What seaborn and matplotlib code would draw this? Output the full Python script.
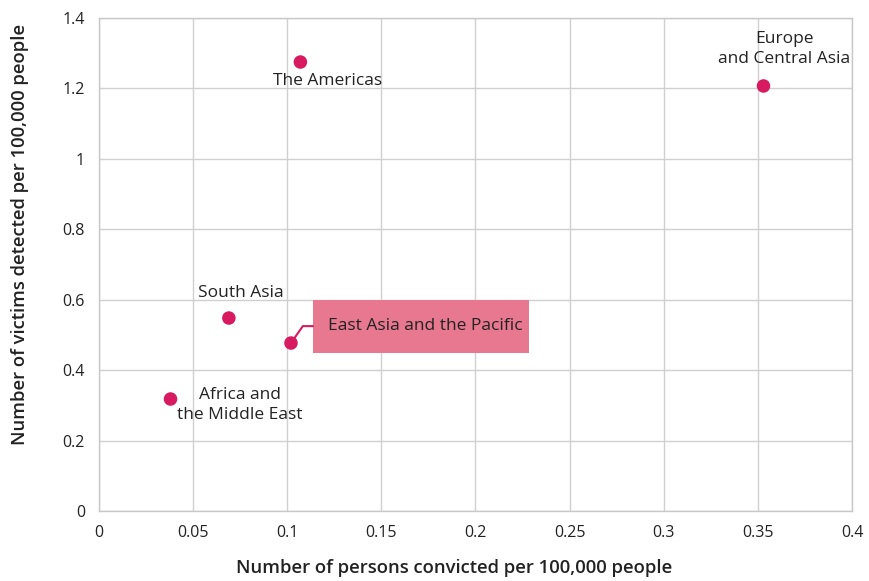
import matplotlib
matplotlib.use("Agg")
import matplotlib.pyplot as plt
from matplotlib.patches import Rectangle
import seaborn as sns
import pandas as pd

# data
regions = ["The Americas", "Europe\nand Central Asia", "South Asia",
           "East Asia and the Pacific", "Africa and\nthe Middle East"]
convicted = [0.107, 0.353, 0.069, 0.102, 0.038]
victims = [1.275, 1.207, 0.548, 0.477, 0.318]

x_ticks = [0, 0.05, 0.1, 0.15, 0.2, 0.25, 0.3, 0.35, 0.4]
x_tick_labels = ["0", "0.05", "0.1", "0.15", "0.2", "0.25", "0.3", "0.35", "0.4"]
y_ticks = [0, 0.2, 0.4, 0.6, 0.8, 1.0, 1.2, 1.4]
y_tick_labels = ["0", "0.2", "0.4", "0.6", "0.8", "1", "1.2", "1.4"]

df = pd.DataFrame({"region": regions, "convicted": convicted, "victims": victims})

sns.set_style("white")
plt.rcParams["font.family"] = ["Open Sans", "DejaVu Sans"]

POINT = "#d81b60"
BOX = "#e87890"
TXT = "#222222"
LBL = 12.5

fig = plt.figure(figsize=(8.69, 5.81), dpi=100)
ax = fig.add_axes([0.1139, 0.1205, 0.8665, 0.8485])

sns.scatterplot(data=df, x="convicted", y="victims", color=POINT, s=95,
                edgecolor="none", ax=ax, zorder=3)

ax.set_xlim(0, 0.4)
ax.set_ylim(0, 1.4)
ax.set_xticks(x_ticks)
ax.set_xticklabels(x_tick_labels)
ax.set_yticks(y_ticks)
ax.set_yticklabels(y_tick_labels)
ax.tick_params(axis="both", length=0, labelsize=11.5, colors=TXT)
ax.tick_params(axis="x", pad=10)
ax.tick_params(axis="y", pad=10)
ax.grid(True, color="#d0d0d0", linewidth=1)
for sp in ax.spines.values():
    sp.set_color("#c8c8c8")
    sp.set_linewidth(1)

ax.set_xlabel("Number of persons convicted per 100,000 people", fontsize=13.3,
              fontweight="semibold", color=TXT, va="center")
ax.set_ylabel("Number of victims detected per 100,000 people", fontsize=13.3,
              fontweight="semibold", color=TXT, va="center")
ax.xaxis.set_label_coords(0.471, -0.1156)
ax.yaxis.set_label_coords(-0.105, 0.56)

# label offsets (data units) relative to each point
offsets = {
    "The Americas": (0.0143, -0.054),
    "Europe\nand Central Asia": (0.0109, 0.104),
    "South Asia": (0.0064, 0.071),
    "Africa and\nthe Middle East": (0.0369, -0.017),
}
for r, x, y in zip(regions, convicted, victims):
    if r in offsets:
        dx, dy = offsets[r]
        ax.text(x + dx, y + dy, r, ha="center", va="center", fontsize=LBL,
                color=TXT, linespacing=1.35)

# highlighted callout box
ea = regions.index("East Asia and the Pacific")
ax.add_patch(Rectangle((0.1137, 0.4487), 0.1147, 0.1503, fc=BOX, ec="none", zorder=4))
ax.text(0.1216, 0.525, regions[ea], ha="left", va="center", fontsize=LBL,
        color=TXT, zorder=5)
ax.annotate("", xy=(convicted[ea], victims[ea]), xytext=(0.1137, 0.525),
            arrowprops=dict(arrowstyle="-", color=POINT, lw=1.5,
                            connectionstyle="angle,angleA=0,angleB=55,rad=0",
                            shrinkA=0, shrinkB=0),
            zorder=4)

fig.savefig("out.png", dpi=100)
